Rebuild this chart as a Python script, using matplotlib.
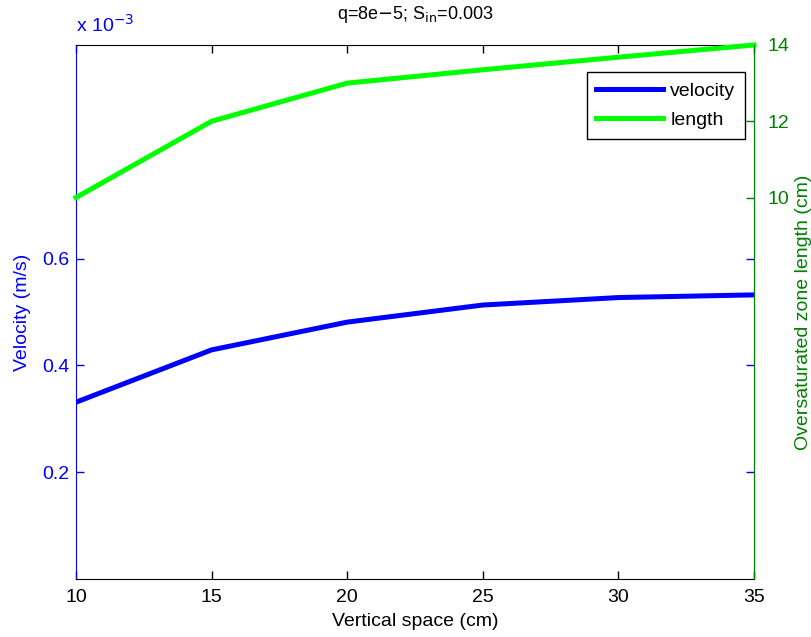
#!/usr/bin/env python3
"""
Velocity and oversaturated zone length vs vertical space (two y axes).
"""
import numpy as np
import matplotlib
matplotlib.use("Agg")
import matplotlib.pyplot as plt

# data
spacing_cm = [10, 15, 20, 25, 30, 35]
velocity_ms = [0.331e-3, 0.429e-3, 0.481e-3, 0.513e-3, 0.527e-3, 0.532e-3]
length_cm = [10.0, 12.0, 13.0, 13.35, 13.68, 14.0]

x_ticks = [10, 15, 20, 25, 30, 35]
vel_ticks = [0.2, 0.4, 0.6]        # in units of 1e-3 m/s
len_ticks = [10, 12, 14]

BLUE = "#0000ff"
GREEN = "#00ff00"
DKGREEN = "#008000"
FS = 14


def main() -> None:
    plt.rcParams["font.family"] = ["Liberation Sans", "DejaVu Sans"]
    fig = plt.figure(figsize=(8.11, 6.37), dpi=100)
    ax1 = fig.add_axes([0.0937, 0.0911, 0.836, 0.8383])
    ax2 = ax1.twinx()

    vel_scaled = np.array(velocity_ms) * 1e3
    l1, = ax1.plot(spacing_cm, vel_scaled, color=BLUE, lw=3.6, label="velocity",
                   solid_joinstyle="miter")
    l2, = ax2.plot(spacing_cm, length_cm, color=GREEN, lw=3.6, label="length",
                   solid_joinstyle="miter", clip_on=False)

    ax1.set_xlim(10, 35)
    ax1.set_ylim(0, 1.0)
    ax2.set_ylim(0, 14)
    ax1.set_xticks(x_ticks)
    ax1.set_yticks(vel_ticks)
    ax2.set_yticks(len_ticks)

    ax1.tick_params(axis="x", direction="in", top=True, bottom=True, length=6,
                    width=1, colors="black", labelsize=FS, pad=7)
    ax1.tick_params(axis="y", direction="in", left=True, right=True, length=6,
                    width=1, colors=BLUE, labelsize=FS, pad=5)
    ax2.tick_params(axis="y", direction="in", left=False, right=True, length=6,
                    width=1, colors=DKGREEN, labelsize=FS, pad=10)

    for s in ("top", "bottom"):
        ax1.spines[s].set_color("black")
    ax1.spines["left"].set_color(BLUE)
    ax1.spines["right"].set_color(BLUE)
    for s in ("top", "bottom", "left"):
        ax2.spines[s].set_visible(False)
    ax2.spines["right"].set_color(DKGREEN)

    ax1.set_xlabel("Vertical space (cm)", fontsize=FS, labelpad=5)
    ax1.set_ylabel("Velocity (m/s)", fontsize=FS, color=BLUE, labelpad=8)
    ax2.set_ylabel("Oversaturated zone length (cm)", fontsize=FS, color=DKGREEN,
                   labelpad=4)
    ax1.text(0, 1.017, r"x 10$^{-3}$", transform=ax1.transAxes, ha="left",
             va="bottom", color=BLUE, fontsize=FS)
    ax1.set_title(r"q=8e$-$5; S$_{\mathrm{in}}$=0.003", fontsize=13, pad=19)

    leg = ax2.legend([l1, l2], ["velocity", "length"], loc="upper right",
                     bbox_to_anchor=(0.987, 0.949), borderaxespad=0,
                     fontsize=FS, fancybox=False, framealpha=1,
                     edgecolor="black", handlelength=3.4, handletextpad=0.4,
                     labelspacing=0.6, borderpad=0.5)
    leg.get_frame().set_linewidth(1.0)

    fig.savefig("out.png", dpi=100)


if __name__ == "__main__":
    main()
